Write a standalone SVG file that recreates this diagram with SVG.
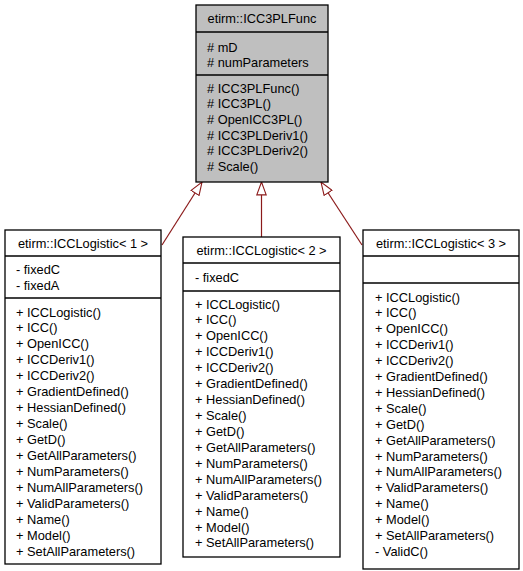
<svg xmlns="http://www.w3.org/2000/svg" width="523" height="571" viewBox="0 0 523 571">
<style>
text{font-family:"Liberation Sans",Arial,sans-serif;font-size:12.8px;fill:#000}
.t{text-anchor:middle}
.box{fill:#fff;stroke:#000;stroke-width:1.3}
.cur{fill:#bfbfbf;stroke:#000;stroke-width:1.3}
.sep{stroke:#000;stroke-width:1.5}
.edge{fill:none;stroke:#8b1a1a;stroke-width:1.2;marker-end:url(#tri)}
</style>
<defs>
<marker id="tri" markerUnits="userSpaceOnUse" viewBox="0 0 14 11" refX="13.5" refY="5.5" markerWidth="14" markerHeight="11" orient="auto">
<path d="M0.6,0.8 L13.5,5.5 L0.6,10.2 Z" fill="#fff" stroke="#8b1a1a" stroke-width="1.1"/>
</marker>
</defs>
<g id="connectors">
<path class="edge" d="M162,245 L202,182"/>
<path class="edge" d="M261.5,237 L261.5,182"/>
<path class="edge" d="M362,245 L321,182"/>
</g>
<g id="ICC3PLFunc">
<rect class="cur" x="196" y="5" width="132" height="177"/>
<line class="sep" x1="196" y1="32" x2="328" y2="32"/>
<line class="sep" x1="196" y1="75" x2="328" y2="75"/>
<text class="t" x="262" y="23">etirm::ICC3PLFunc</text>
<text x="207" y="51.5"># mD<tspan x="207" dy="15"># numParameters</tspan></text>
<text x="207" y="92.8"># ICC3PLFunc()<tspan x="207" dy="15.6"># ICC3PL()</tspan><tspan x="207" dy="15.6"># OpenICC3PL()</tspan><tspan x="207" dy="15.6"># ICC3PLDeriv1()</tspan><tspan x="207" dy="15.6"># ICC3PLDeriv2()</tspan><tspan x="207" dy="15.6"># Scale()</tspan></text>
</g>
<g id="ICCLogistic1">
<rect class="box" x="5" y="230" width="156" height="334"/>
<line class="sep" x1="5" y1="256" x2="161" y2="256"/>
<line class="sep" x1="5" y1="298" x2="161" y2="298"/>
<text class="t" x="83" y="247.8">etirm::ICCLogistic&lt; 1 &gt;</text>
<text x="16" y="274">- fixedC<tspan x="16" dy="16">- fixedA</tspan></text>
<text x="16" y="316.5">+ ICCLogistic()<tspan x="16" dy="15.95">+ ICC()</tspan><tspan x="16" dy="15.95">+ OpenICC()</tspan><tspan x="16" dy="15.95">+ ICCDeriv1()</tspan><tspan x="16" dy="15.95">+ ICCDeriv2()</tspan><tspan x="16" dy="15.95">+ GradientDefined()</tspan><tspan x="16" dy="15.95">+ HessianDefined()</tspan><tspan x="16" dy="15.95">+ Scale()</tspan><tspan x="16" dy="15.95">+ GetD()</tspan><tspan x="16" dy="15.95">+ GetAllParameters()</tspan><tspan x="16" dy="15.95">+ NumParameters()</tspan><tspan x="16" dy="15.95">+ NumAllParameters()</tspan><tspan x="16" dy="15.95">+ ValidParameters()</tspan><tspan x="16" dy="15.95">+ Name()</tspan><tspan x="16" dy="15.95">+ Model()</tspan><tspan x="16" dy="15.95">+ SetAllParameters()</tspan></text>
</g>
<g id="ICCLogistic2">
<rect class="box" x="183" y="237" width="157" height="320"/>
<line class="sep" x1="183" y1="263" x2="340" y2="263"/>
<line class="sep" x1="183" y1="291" x2="340" y2="291"/>
<text class="t" x="261.5" y="255.3">etirm::ICCLogistic&lt; 2 &gt;</text>
<text x="195" y="282.3">- fixedC</text>
<text x="195" y="308.5">+ ICCLogistic()<tspan x="195" dy="15.93">+ ICC()</tspan><tspan x="195" dy="15.93">+ OpenICC()</tspan><tspan x="195" dy="15.93">+ ICCDeriv1()</tspan><tspan x="195" dy="15.93">+ ICCDeriv2()</tspan><tspan x="195" dy="15.93">+ GradientDefined()</tspan><tspan x="195" dy="15.93">+ HessianDefined()</tspan><tspan x="195" dy="15.93">+ Scale()</tspan><tspan x="195" dy="15.93">+ GetD()</tspan><tspan x="195" dy="15.93">+ GetAllParameters()</tspan><tspan x="195" dy="15.93">+ NumParameters()</tspan><tspan x="195" dy="15.93">+ NumAllParameters()</tspan><tspan x="195" dy="15.93">+ ValidParameters()</tspan><tspan x="195" dy="15.93">+ Name()</tspan><tspan x="195" dy="15.93">+ Model()</tspan><tspan x="195" dy="15.93">+ SetAllParameters()</tspan></text>
</g>
<g id="ICCLogistic3">
<rect class="box" x="363" y="230" width="156" height="339"/>
<line class="sep" x1="363" y1="256" x2="519" y2="256"/>
<line class="sep" x1="363" y1="283" x2="519" y2="283"/>
<text class="t" x="441" y="248.3">etirm::ICCLogistic&lt; 3 &gt;</text>
<text x="375" y="301.5">+ ICCLogistic()<tspan x="375" dy="15.9">+ ICC()</tspan><tspan x="375" dy="15.9">+ OpenICC()</tspan><tspan x="375" dy="15.9">+ ICCDeriv1()</tspan><tspan x="375" dy="15.9">+ ICCDeriv2()</tspan><tspan x="375" dy="15.9">+ GradientDefined()</tspan><tspan x="375" dy="15.9">+ HessianDefined()</tspan><tspan x="375" dy="15.9">+ Scale()</tspan><tspan x="375" dy="15.9">+ GetD()</tspan><tspan x="375" dy="15.9">+ GetAllParameters()</tspan><tspan x="375" dy="15.9">+ NumParameters()</tspan><tspan x="375" dy="15.9">+ NumAllParameters()</tspan><tspan x="375" dy="15.9">+ ValidParameters()</tspan><tspan x="375" dy="15.9">+ Name()</tspan><tspan x="375" dy="15.9">+ Model()</tspan><tspan x="375" dy="15.9">+ SetAllParameters()</tspan><tspan x="375" dy="15.9">- ValidC()</tspan></text>
</g>
</svg>
